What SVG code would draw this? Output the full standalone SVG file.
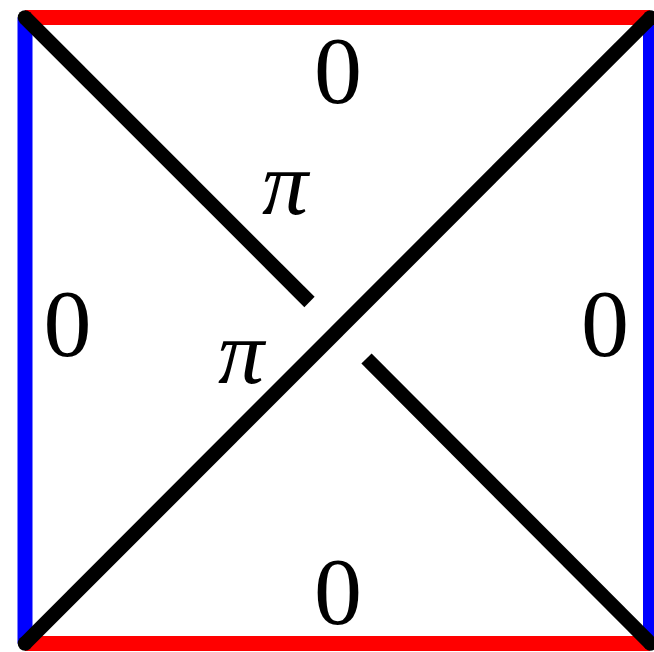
<svg xmlns="http://www.w3.org/2000/svg" width="654" height="652" viewBox="0 0 654 652">
<style>
.red{stroke:#ff0000;stroke-width:15;fill:none}
.blue{stroke:#0000ff;stroke-width:15;fill:none}
.blk{stroke:#000;stroke-width:14.5;fill:none;stroke-linecap:butt}
.num{font-family:"Liberation Serif",serif;font-size:96px;fill:#000;text-anchor:middle}
.pi{font-family:"Liberation Serif",serif;font-style:italic;font-size:92px;fill:#000;text-anchor:middle}
</style>
<rect width="654" height="652" fill="#fff"/>
<g id="edges">
<line class="red" x1="25" y1="17.5" x2="650" y2="17.5"/>
<line class="red" x1="25" y1="643.5" x2="650" y2="643.5"/>
<line class="blue" x1="25" y1="17.5" x2="25" y2="643.5"/>
<line class="blue" x1="650.5" y1="17.5" x2="650.5" y2="643.5"/>
</g>
<g id="connectors">
<line class="blk" x1="25" y1="17.5" x2="309.5" y2="302"/>
<line class="blk" x1="366.5" y1="358.5" x2="650.5" y2="643.5"/>
<line class="blk" x1="25" y1="643.5" x2="650.5" y2="17.5"/>
<circle cx="25" cy="17.5" r="7.25" fill="#000"/>
<circle cx="25" cy="643.5" r="7.25" fill="#000"/>
<circle cx="650.5" cy="17.5" r="7.25" fill="#000"/>
<circle cx="650.5" cy="643.5" r="7.25" fill="#000"/>
</g>
<g id="labels">
<text class="num" x="338" y="103">0</text>
<text class="num" x="338" y="624">0</text>
<text class="num" x="67.5" y="356">0</text>
<text class="num" x="605" y="356">0</text>
<text class="pi" x="285" y="214">π</text>
<text class="pi" x="241" y="383">π</text>
</g>
</svg>
